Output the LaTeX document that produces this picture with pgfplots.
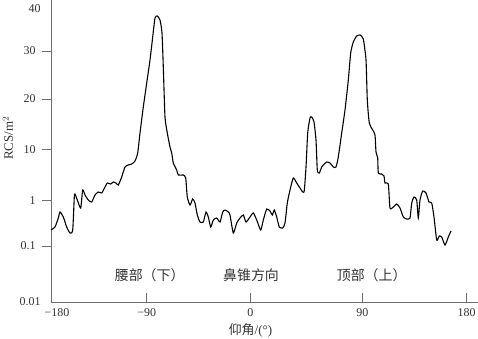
\documentclass[border=0pt]{standalone}
\usepackage{fontspec}
\setmainfont{Liberation Serif}
\newfontfamily\cjk{Noto Sans CJK SC}
\usepackage{pgfplots}
\pgfplotsset{compat=1.18}
\definecolor{axgray}{HTML}{6E6E6E}
\definecolor{txtgray}{HTML}{333333}
\begin{document}
\begin{tikzpicture}[x=1bp,y=1bp]
\path[use as bounding box] (-51,-36) rectangle (427,302);
\begin{axis}[
  x=1bp, y=1bp,
  xmin=0, xmax=427, ymin=0, ymax=302,
  axis x line=bottom, axis y line=left,
  axis line style={-, axgray, line width=0.9bp},
  every tick/.style={axgray, line width=0.9bp},
  xtick align=inside, ytick align=outside,
  major tick length=9bp,
  xtick={95.7,199.3,311.3,415.7},
  xticklabels={−90,0,90,180},
  extra x ticks={0},
  extra x tick labels={−180},
  extra x tick style={tick style={draw opacity=0}, xticklabel style={xshift=6bp}},
  ytick={56,101.3,152.7,203,251},
  yticklabels={0.1,1,10,20,30},
  extra y ticks={0,293},
  extra y tick labels={0.01\kern-5bp,40\kern-5bp},
  extra y tick style={tick style={draw opacity=0}},
  tick label style={font=\fontsize{12}{14}\selectfont, text=txtgray},
  xticklabel style={yshift=-3bp},
  yticklabel style={xshift=-3bp},
  xlabel={{\cjk 仰角}/(°)},
  ylabel={RCS/m$^2$},
  label style={font=\fontsize{13}{15}\selectfont, text=txtgray},
  x label style={at={(axis description cs:0.467,-0.0927)}, anchor=center},
  y label style={at={(axis description cs:-0.1007,0.543)}, anchor=center},
  clip=false,
]
\addplot[black, line width=1.1bp, smooth, tension=0.35] coordinates {
(0,72) (4,75) (7.3,84) (9,90) (12.3,85) (15.7,75) (19,69) (21.7,72) (23.3,105) (24,108)
(26.3,102) (29.7,94) (31.7,112) (34,107) (37.3,102) (40.7,100) (44,107) (47.3,110)
(50.7,109) (54,115) (56.3,119) (59.7,118) (62.3,120) (65,119) (67.3,117) (70.7,125)
(74,135) (77.3,137) (80.7,138) (84,141) (86.7,149) (89,169) (92.3,195) (95.7,219)
(99,242) (101.7,265) (104,284) (106.3,286) (109,282) (111,269) (112.3,235) (114,185)
(116.3,169) (119,155) (120.7,149) (122.3,139) (125.7,132) (127.3,127) (132.3,127)
(134.7,124) (136.3,105) (139,97) (141.7,103) (144,99) (146.3,87) (149,80) (152.3,80)
(155,90) (157.3,85) (159.7,75) (162.3,82) (165.7,84) (169,80) (171.7,90) (174,92)
(177.3,90) (179,87) (182.3,69) (185.7,79) (189,84) (192.3,87) (195,80) (199,85)
(202.3,89) (205.7,82) (209.7,72) (212.3,82) (215.7,93) (219,91) (221.3,87) (223.3,92)
(225.7,85) (228.3,75) (231.7,74) (234,79) (236.3,99) (239,112) (242.3,124) (245.7,119)
(249,114) (253,110) (255,135) (256.7,169) (259,184) (260.7,185) (263,180) (265,162)
(266.3,132) (268.3,129) (270.7,135) (272.3,137) (275.7,140) (279,139) (282.3,135)
(285,135) (287.3,145) (290.7,169) (294,192) (297.3,222) (299.7,249) (302.3,260)
(305.7,266) (309,267) (312.3,263) (315,242) (316.3,202) (318.3,179) (321.7,172)
(324,167) (325,150) (326.7,144) (327.3,129) (330.7,128) (333,126) (334,119) (337.3,118)
(339,94) (342.3,95) (345.7,98) (349,94) (352.3,85) (355.7,83) (359,84) (360.7,99)
(363,105) (365.7,102) (367.3,84) (369,102) (371.7,111) (375,109) (378,100) (380.7,99)
(383,85) (385.7,62) (388.3,66) (390.7,65) (394,57) (397.3,65) (400,71)
};
\node[font=\cjk\fontsize{14}{16}\selectfont, text=txtgray] at (axis cs:98.7,27) {腰部（下）};
\node[font=\cjk\fontsize{14}{16}\selectfont, text=txtgray] at (axis cs:200,27) {鼻锥方向};
\node[font=\cjk\fontsize{14}{16}\selectfont, text=txtgray] at (axis cs:320.7,27) {顶部（上）};
\end{axis}
\end{tikzpicture}
\end{document}
